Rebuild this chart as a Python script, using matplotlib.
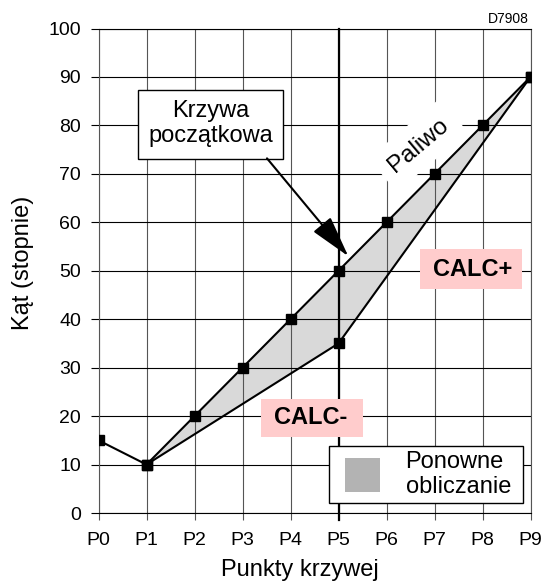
import numpy as np
import matplotlib.pyplot as plt
from matplotlib.patches import Rectangle, FancyArrowPatch

plt.rcParams['font.family'] = ['Liberation Sans', 'DejaVu Sans']

# Curve points and angles
points = ['P0', 'P1', 'P2', 'P3', 'P4', 'P5', 'P6', 'P7', 'P8', 'P9']
initial_curve = [15, 10, 20, 30, 40, 50, 60, 70, 80, 90]
# Lower bound of the recalculation band (CALC-)
recalc_idx = [1, 5, 9]
recalc_curve = [10, 35, 90]

W, H = 546, 584
fig = plt.figure(figsize=(W / 100, H / 100), dpi=100)
ax = fig.add_axes([98.5 / W, 1 - 513 / H, 432 / W, 484.5 / H])
x = np.arange(len(points))

ax.set_xlim(0, 9)
ax.set_ylim(0, 100)
ax.set_xticks(x, points)
ax.set_yticks(np.arange(0, 101, 10))
ax.tick_params(axis='x', length=5, width=0.8, color='#555555', labelsize=14, pad=9)
ax.tick_params(axis='y', length=6, width=0.8, color='black', labelsize=14, pad=6.5)
ax.set_axisbelow(True)
ax.grid(axis='y', color='black', lw=0.8)
ax.grid(axis='x', color='#555555', lw=0.8)
for s in ['left', 'right']:
    ax.spines[s].set_color('#555555')
    ax.spines[s].set_linewidth(0.8)
for s in ['top', 'bottom']:
    ax.spines[s].set_color('black')
    ax.spines[s].set_linewidth(0.8)

# Highlighted reference point P5
ax.axvline(5, ymin=-0.015, color='black', lw=1.6, clip_on=False, zorder=1.5)

# Recalculation band between the initial curve and CALC- bound
band_x = np.concatenate([x[1:], np.array(recalc_idx)[::-1]])
band_y = np.concatenate([np.array(initial_curve[1:]), np.array(recalc_curve)[::-1]])
ax.fill(band_x, band_y, color='#d9d9d9', lw=0, zorder=0.2)

ax.plot(recalc_idx, recalc_curve, color='black', lw=1.5, marker='s', ms=6.5, zorder=3)
ax.plot(x, initial_curve, color='black', lw=1.5, marker='s', ms=6.5, zorder=4)

# "Paliwo" label along the curve
ax.text(6.66, 75.9, 'Paliwo', fontsize=17.5, rotation=40, rotation_mode='anchor',
        ha='center', va='center', zorder=1,
        bbox=dict(boxstyle='square,pad=0.45', fc='white', ec='none'))

# Callout box with arrow
ax.add_patch(Rectangle((0.823, 73.1), 3.021, 14.3, fc='white', ec='black', lw=1.0, zorder=5))
ax.text(2.33, 76.56, 'Krzywa\npoczątkowa', fontsize=17, ha='center', va='baseline',
        multialignment='center', linespacing=1.2, zorder=6)
ax.add_patch(FancyArrowPatch(posA=(3.51, 73.2), posB=(5.204, 53.0),
                             arrowstyle='-|>,head_length=26,head_width=7',
                             mutation_scale=1, lw=1.5, color='black',
                             shrinkA=0, shrinkB=0, zorder=6))

# CALC+ / CALC- tags
ax.add_patch(Rectangle((6.70, 46.2), 2.12, 8.2, fc='#ffcccc', ec='none', zorder=5))
ax.text(7.79, 48.9, 'CALC+', fontsize=17, fontweight='bold', ha='center',
        va='baseline', zorder=6)
ax.add_patch(Rectangle((3.39, 15.6), 2.11, 8.0, fc='#ffcccc', ec='none', zorder=5))
ax.text(4.43, 18.35, 'CALC-', fontsize=17, fontweight='bold', ha='center',
        va='baseline', zorder=6)

# Legend box for the recalculation band
ta = ax.transAxes
ax.add_patch(Rectangle((0.5343, 0.02126), 0.4477, 0.1170, transform=ta,
                       fc='white', ec='black', lw=1.0, zorder=7))
ax.add_patch(Rectangle((0.5713, 0.04396), 0.0794, 0.0689, transform=ta,
                       fc='#b3b3b3', ec='none', zorder=8))
ax.text(0.7107, 0.0923, 'Ponowne', transform=ta, fontsize=17, ha='left',
        va='baseline', zorder=8)
ax.text(0.7107, 0.0419, 'obliczanie', transform=ta, fontsize=17, ha='left',
        va='baseline', zorder=8)

ax.set_xlabel('Punkty krzywej', fontsize=17)
ax.set_ylabel('Kąt (stopnie)', fontsize=17)
ax.xaxis.set_label_coords(0.466, -0.094)
ax.yaxis.set_label_coords(-0.150, 0.517)

fig.text(529 / W, 1 - 22.7 / H, 'D7908', fontsize=10, ha='right', va='baseline')

fig.savefig('out.png', dpi=100)
